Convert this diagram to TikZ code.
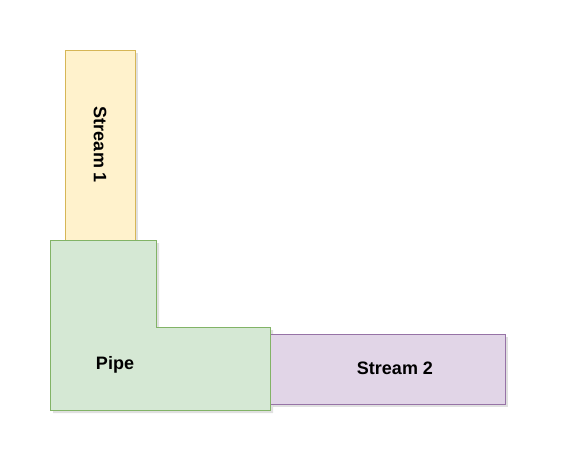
\documentclass[tikz,border=0pt]{standalone}
\usepackage{fontspec}
\setmainfont{Liberation Sans}
\usetikzlibrary{positioning}

\definecolor{yelfill}{HTML}{FFF2CC}
\definecolor{yeldraw}{HTML}{D6B656}
\definecolor{grnfill}{HTML}{D5E8D4}
\definecolor{grndraw}{HTML}{82B366}
\definecolor{purfill}{HTML}{E1D5E7}
\definecolor{purdraw}{HTML}{9673A6}

\tikzset{
  block/.style={rectangle, inner sep=0pt, line width=0.8pt},
  shade/.style={fill=black, opacity=0.12},
  lbl/.style={font=\bfseries\fontsize{18}{20}\selectfont, inner sep=0pt}
}

\begin{document}
\begin{tikzpicture}[x=1pt, y=-1pt]
            \useasboundingbox (0,0) rectangle (567,472);
            % shadows
            \fill[shade] (68,53) rectangle (138,243);
            \fill[shade] (273,337) rectangle (508,407);
            \fill[shade] (53,243) -- (159,243) -- (159,330) -- (273,330) -- (273,413) -- (53,413) -- cycle;
            % streams and pipe
            \node[block, draw=yeldraw, fill=yelfill, minimum width=70pt, minimum height=190pt] (stream1) at (100,145) {};
            \node[block, draw=purdraw, fill=purfill, minimum width=235pt, minimum height=70pt] (stream2) at (387.5,369) {};
            \draw[line width=0.8pt, draw=grndraw, fill=grnfill] (50,240) -- (156,240) -- (156,327) -- (270,327) -- (270,410) -- (50,410) -- cycle;
            
            \node[lbl, rotate=-90] (s1text) at (100,145) {Stream 1};
            \node[lbl] (pipetext) at (115,365) {Pipe};
            \node[lbl] (s2text) at (395,368) {Stream 2};
        \end{tikzpicture}
\end{document}
